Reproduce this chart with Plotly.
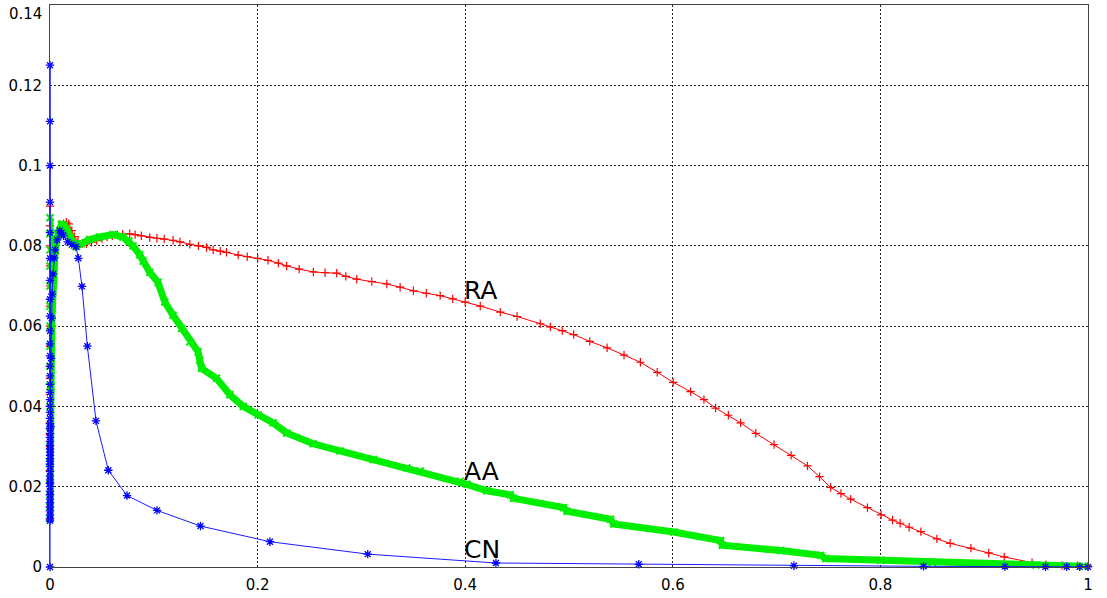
import plotly.graph_objects as go

# ---- Precision vs. recall for three link-prediction indices ----

# RA (resource allocation)
ra_recall = [
    0, 0, 0, 0, 0, 0, 0, 0, 0, 0, 0, 0, 0, 0, 0, 0, 0, 0, 0, 0, 0,
    0.001, 0.002, 0.003, 0.005, 0.007, 0.01, 0.013, 0.0157, 0.018, 0.021,
    0.0237, 0.027, 0.031, 0.035, 0.04, 0.045, 0.05, 0.055, 0.06, 0.065,
    0.07, 0.0768, 0.082, 0.088, 0.0961, 0.103, 0.11, 0.1186, 0.1252, 0.1347,
    0.143, 0.1508, 0.1572, 0.164, 0.170, 0.1813, 0.19, 0.2, 0.21, 0.22,
    0.228, 0.24, 0.2537, 0.265, 0.2762, 0.285, 0.2955, 0.31, 0.3245, 0.3373,
    0.3501, 0.3625, 0.3759, 0.388, 0.40, 0.4145, 0.4338, 0.45, 0.4723, 0.482,
    0.4935, 0.5045, 0.52, 0.5367, 0.553, 0.5688, 0.585, 0.6004, 0.6171, 0.63,
    0.6412, 0.6535, 0.6653, 0.68, 0.6975, 0.714, 0.7297, 0.7414, 0.7521, 0.762,
    0.7714, 0.7875, 0.8007, 0.8117, 0.819, 0.8277, 0.839, 0.8544, 0.8672, 0.8872,
    0.9043, 0.9193, 0.9461, 0.9596, 0.975, 0.99, 1.0,
]
ra_precision = [
    0.0899, 0.085, 0.08, 0.075, 0.07, 0.065, 0.06, 0.055, 0.05, 0.047, 0.043,
    0.04, 0.036, 0.033, 0.03, 0.027, 0.024, 0.021, 0.018, 0.015, 0.012,
    0.04, 0.06, 0.072, 0.078, 0.082, 0.0845, 0.0855, 0.0859, 0.0855, 0.0838,
    0.0823, 0.0812, 0.0806, 0.0805, 0.0809, 0.0813, 0.0818, 0.0822, 0.0825, 0.0827,
    0.0829, 0.083, 0.0828, 0.0825, 0.0821, 0.0819, 0.0817, 0.0814, 0.081, 0.0804,
    0.08, 0.0796, 0.079, 0.0787, 0.0784, 0.0777, 0.0773, 0.0769, 0.0764, 0.0757,
    0.075, 0.0742, 0.0735, 0.0733, 0.0732, 0.0724, 0.0717, 0.0711, 0.0705, 0.0697,
    0.0688, 0.0682, 0.0676, 0.0668, 0.066, 0.065, 0.0635, 0.0624, 0.0606, 0.0598,
    0.0589, 0.0579, 0.0562, 0.0546, 0.0528, 0.051, 0.0485, 0.046, 0.0437, 0.0417,
    0.0396, 0.0378, 0.0359, 0.0333, 0.0305, 0.0278, 0.0252, 0.0225, 0.0198, 0.0183,
    0.0169, 0.0148, 0.013, 0.0117, 0.0109, 0.0099, 0.0088, 0.007, 0.0059, 0.0047,
    0.0035, 0.0025, 0.0011, 0.0006, 0.0004, 0.0003, 0.0002,
]

# AA (Adamic-Adar)
aa_recall = [
    0, 0, 0, 0, 0, 0, 0, 0, 0, 0, 0, 0, 0, 0, 0, 0, 0, 0,
    0.001, 0.002, 0.003, 0.005, 0.0075, 0.0109, 0.0135, 0.016, 0.02, 0.0254,
    0.03, 0.0382, 0.0479, 0.0607, 0.0703, 0.076, 0.08, 0.0864, 0.0896, 0.0961,
    0.1041, 0.1106, 0.1186, 0.1267, 0.1347, 0.1427, 0.1443, 0.146, 0.1604, 0.1733,
    0.1861, 0.2006, 0.215, 0.228, 0.2536, 0.2794, 0.3115, 0.3437, 0.3566, 0.3952,
    0.4016, 0.4209, 0.4434, 0.4466, 0.4948, 0.4981, 0.5399, 0.5431, 0.601, 0.646,
    0.6477, 0.7039, 0.7425, 0.7473, 0.8004, 0.85, 0.9, 0.95, 0.995,
]
aa_precision = [
    0.087, 0.083, 0.079, 0.075, 0.07, 0.065, 0.06, 0.055, 0.05, 0.045, 0.04,
    0.035, 0.03, 0.026, 0.022, 0.018, 0.015, 0.012,
    0.045, 0.063, 0.072, 0.079, 0.083, 0.0853, 0.085, 0.0843, 0.082, 0.0798,
    0.0805, 0.0816, 0.0822, 0.0828, 0.0822, 0.0812, 0.08, 0.0778, 0.0762, 0.0734,
    0.0709, 0.066, 0.0627, 0.0594, 0.0561, 0.0536, 0.0515, 0.0495, 0.047, 0.0429,
    0.04, 0.0379, 0.0359, 0.0334, 0.0307, 0.0289, 0.0268, 0.0247, 0.0239, 0.0214,
    0.0206, 0.019, 0.018, 0.0171, 0.0148, 0.0139, 0.0119, 0.0107, 0.0087, 0.0066,
    0.0054, 0.0041, 0.0029, 0.0021, 0.0017, 0.0011, 0.0008, 0.0005, 0.0002,
]

# CN (common neighbours)
cn_recall = [
    0, 0, 0, 0, 0, 0, 0, 0, 0, 0, 0, 0, 0, 0, 0, 0, 0, 0, 0, 0, 0, 0, 0, 0,
    0, 0, 0, 0, 0, 0, 0, 0, 0, 0, 0, 0, 0, 0, 0, 0, 0, 0, 0, 0, 0, 0, 0, 0,
    0.0005, 0.001, 0.0015, 0.002, 0.003, 0.004, 0.005, 0.007, 0.0093, 0.011,
    0.013, 0.017, 0.021, 0.025, 0.0273, 0.0308, 0.036, 0.0443, 0.0562, 0.0742,
    0.1031, 0.145, 0.2119, 0.3061, 0.4296, 0.5672, 0.7167, 0.8416, 0.920, 0.959,
    0.9795, 0.992, 1.0,
]
cn_precision = [
    0, 0.125, 0.111, 0.1, 0.0909, 0.0833, 0.0769, 0.0714, 0.0667, 0.0625, 0.0588,
    0.0556, 0.0526, 0.05, 0.0476, 0.0455, 0.0435, 0.0417, 0.04, 0.0385, 0.037,
    0.0357, 0.0345, 0.0333, 0.0323, 0.0313, 0.0303, 0.0294, 0.0286, 0.0278, 0.027,
    0.0263, 0.0256, 0.025, 0.0238, 0.0227, 0.0217, 0.0208, 0.02, 0.0189, 0.018,
    0.0169, 0.016, 0.015, 0.014, 0.013, 0.012, 0.0115,
    0.035, 0.052, 0.062, 0.068, 0.073, 0.077, 0.079, 0.0815, 0.0838, 0.0832,
    0.0825, 0.081, 0.0803, 0.0798, 0.0769, 0.0699, 0.055, 0.0364, 0.0241, 0.0178,
    0.0141, 0.0102, 0.0063, 0.0032, 0.001, 0.00067, 0.0003, 0.00017, 0.0001, 0.00007,
    0.00005, 0.00003, 0.00002,
]

# in-plot curve labels: (text, x, y)
curve_labels = [("RA", 0.4, 0.0688), ("AA", 0.4, 0.0238), ("CN", 0.4, 0.0043)]

x_ticks = [0, 0.2, 0.4, 0.6, 0.8, 1]
y_ticks = [0, 0.02, 0.04, 0.06, 0.08, 0.1, 0.12, 0.14]

fig = go.Figure()

fig.add_trace(go.Scatter(
    x=ra_recall, y=ra_precision, mode="lines+markers", name="RA",
    line=dict(color="#ff0000", width=1),
    marker=dict(symbol="cross-thin", size=6, color="#ff0000",
                line=dict(color="#ff0000", width=1.2)),
    cliponaxis=False,
))
fig.add_trace(go.Scatter(
    x=aa_recall, y=aa_precision, mode="lines+markers", name="AA",
    line=dict(color="#00ee00", width=7),
    marker=dict(symbol="x-thin", size=7, color="#00ee00",
                line=dict(color="#00ee00", width=2)),
    cliponaxis=False,
))
fig.add_trace(go.Scatter(
    x=cn_recall, y=cn_precision, mode="lines+markers", name="CN",
    line=dict(color="#1a1aff", width=1),
    marker=dict(symbol="asterisk-open", size=7, color="#0000ff",
                line=dict(color="#0000ff", width=1.3)),
    cliponaxis=False,
))

for text, x, y in curve_labels:
    fig.add_annotation(x=x, y=y, text=text, showarrow=False,
                       xanchor="left", yanchor="middle", xshift=-3,
                       font=dict(family="DejaVu Sans", size=25, color="black"))

# the top y tick label sits at the very edge of the page, so it is placed by hand
tick_font = dict(family="DejaVu Sans", size=15, color="black")
fig.add_annotation(x=0, y=y_ticks[-1], xref="paper", yref="y",
                   text=f"{y_ticks[-1]:g}", showarrow=False,
                   xanchor="right", yanchor="top", xshift=-6, yshift=2,
                   font=tick_font)

axis_common = dict(
    showgrid=True, gridcolor="rgba(0,0,0,0.85)", gridwidth=1, griddash="2px,2px",
    zeroline=False, showline=True, mirror=True, linecolor="#444", linewidth=1,
    ticks="outside", ticklen=4, tickcolor="rgba(0,0,0,0)",
    tickfont=tick_font,
)

fig.update_layout(
    width=1107, height=598,
    margin=dict(l=50, r=19, t=4, b=28),
    paper_bgcolor="white", plot_bgcolor="white",
    showlegend=False,
    xaxis=dict(range=[0, 1], tickvals=x_ticks,
               ticktext=[f"{v:g}" for v in x_ticks], **axis_common),
    yaxis=dict(range=[0, 0.14], tickvals=y_ticks,
               ticktext=[f"{v:g}" for v in y_ticks[:-1]] + [""], **axis_common),
)

fig.write_html("out.html")
